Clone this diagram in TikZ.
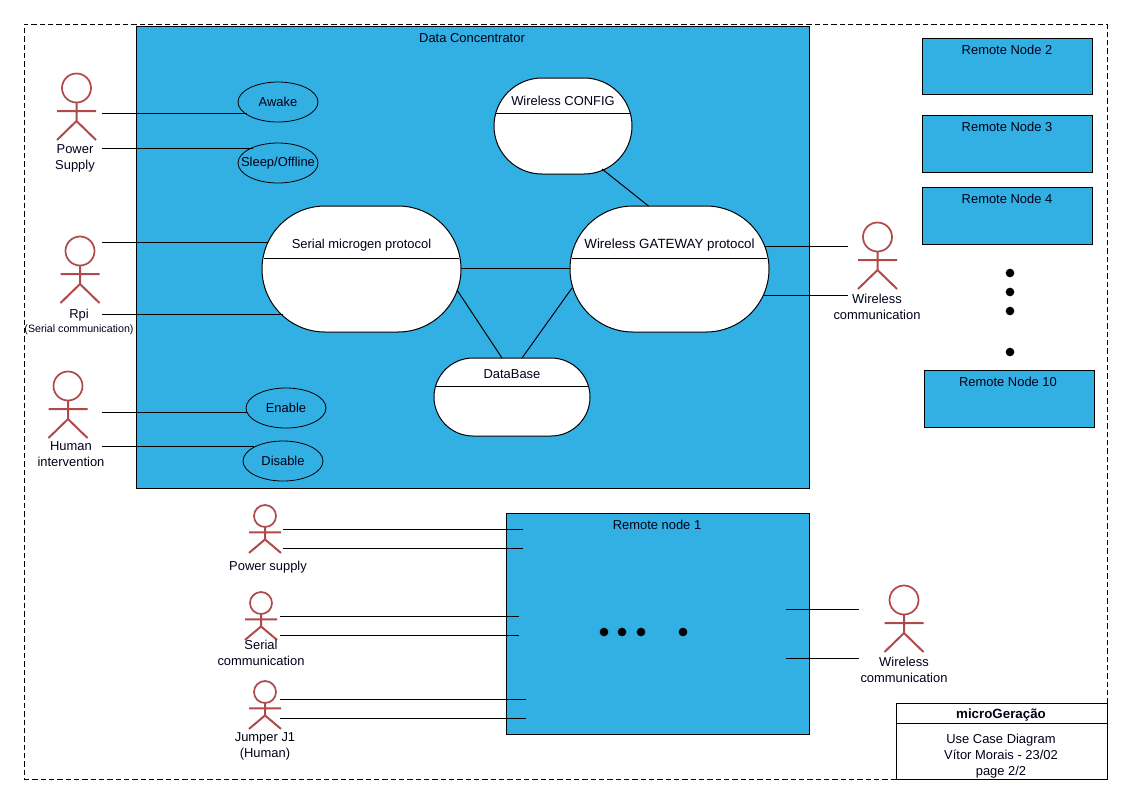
\documentclass[tikz,border=0pt]{standalone}
\usepackage{fontspec}
\setmainfont{Liberation Sans}
\usetikzlibrary{shapes.geometric,calc}
\definecolor{sysblue}{HTML}{33B0E3}
\definecolor{actorred}{HTML}{B04A4A}
\definecolor{textnavy}{HTML}{000018}
\tikzset{
  every node/.style={font=\fontsize{9.7}{12}\selectfont,text=textnavy,align=center,inner sep=0pt,outer sep=0pt},
  lbl/.style={yshift=-0.75pt},
  wire/.style={draw=black,line width=0.75pt},
  sysbox/.style={draw=black,fill=sysblue,line width=0.75pt,anchor=north west},
  usecase/.style={ellipse,draw=black,fill=sysblue,line width=0.6pt,minimum width=60pt,minimum height=30pt,inner xsep=-7pt},
  statebox/.style={draw=black,fill=white,line width=0.75pt},
  limb/.style={draw=actorred,line width=1.5pt},
  headc/.style={circle,draw=actorred,line width=1.3pt},
  dotn/.style={circle,fill=black,minimum size=6.5pt},
}
% name, x, head y, head radius (px), vertical scale, arm half width (px)
\newcommand{\actorfig}[6]{%
  \node[headc,minimum size=#4*1.5pt] (#1) at (#2,#3) {};
  \coordinate (#1-neck) at (#1.south);
  \coordinate (#1-hip) at (#2,#3+33*#5);
  \coordinate (#1-la) at (#2-#6,#3+23*#5);
  \coordinate (#1-ra) at (#2+#6,#3+23*#5);
  \coordinate (#1-lf) at (#2-#6,#3+52*#5);
  \coordinate (#1-rf) at (#2+#6,#3+52*#5);
  \draw[limb] (#1-neck) -- (#1-hip) (#1-la) -- (#1-ra) (#1-lf) -- (#1-hip) -- (#1-rf);
}
% name, x1, y1, x2, y2, radius(px), header y, title y, text
\newcommand{\statefig}[9]{%
  \node[statebox,rounded corners=#6*0.75pt,minimum width={(#4-#2)*0.75pt},minimum height={(#5-#3)*0.75pt}] (#1) at ({(#2+#4)/2},{(#3+#5)/2}) {};
  \draw[wire] ($(#1.west |- 0,#7)+(1.5pt,0)$) -- ($(#1.east |- 0,#7)+(-1.5pt,0)$);
  \node[lbl] (#1-title) at ({(#2+#4)/2},#8) {#9};
}
\begin{document}
\begin{tikzpicture}[x=0.75pt,y=-0.75pt]
\useasboundingbox (0,0) rectangle (1123,794);
\node[draw=black,dash pattern=on 4pt off 2.25pt,line width=0.75pt,anchor=north west,minimum width=812.25pt,minimum height=566.25pt] (frame) at (24,24) {};

% Data concentrator
\node[sysbox,minimum width=504.75pt,minimum height=346.5pt] (dc) at (136,26) {};
\node[lbl] (dclabel) at (472,37) {Data Concentrator};

% Remote nodes
\node[sysbox,minimum width=127.5pt,minimum height=42pt] (rn2) at (922,38) {};
\node[lbl] (rn2l) at (1007,49) {Remote Node 2};
\node[sysbox,minimum width=127.5pt,minimum height=42.75pt] (rn3) at (922,115) {};
\node[lbl] (rn3l) at (1007,126) {Remote Node 3};
\node[sysbox,minimum width=127.5pt,minimum height=42.75pt] (rn4) at (922,187) {};
\node[lbl] (rn4l) at (1007,198) {Remote Node 4};
\node[sysbox,minimum width=127.5pt,minimum height=42.75pt] (rn10) at (924,370) {};
\node[lbl] (rn10l) at (1008,381) {Remote Node 10};
\node[dotn] (d1) at (1010,273) {};
\node[dotn] (d2) at (1010,292) {};
\node[dotn] (d3) at (1010,311) {};
\node[dotn] (d4) at (1010,352) {};

% Remote node 1
\node[sysbox,minimum width=227.25pt,minimum height=165.75pt] (rn1) at (506,513) {};
\node[lbl] (rn1l) at (657,524) {Remote node 1};
\node[dotn] (e1) at (604,632) {};
\node[dotn] (e2) at (622,632) {};
\node[dotn] (e3) at (641,632) {};
\node[dotn] (e4) at (683,632) {};

% Use cases
\node[usecase] (awake) at (278,102) {\raisebox{-0.75pt}{Awake}};
\node[usecase] (sleep) at (278,163) {\raisebox{-0.75pt}{Sleep/Offline}};
\node[usecase] (enable) at (286,408) {\raisebox{-0.75pt}{Enable}};
\node[usecase] (disable) at (283,461) {\raisebox{-0.75pt}{Disable}};

% Actors
\actorfig{ps}{76.5}{88}{14.5}{1}{19.5}
\node[lbl] (psl) at (75,157) {Power\\Supply};
\actorfig{rpi}{80}{251}{14.5}{1}{19.5}
\node[lbl] (rpil) at (79,314) {Rpi};
\node[lbl,font=\fontsize{8}{10}\selectfont] (rpis) at (79,329) {(Serial communication)};
\actorfig{hum}{68}{386}{14.5}{1}{19.5}
\node[lbl] (huml) at (71,453) {Human\\intervention};
\actorfig{wc}{877.5}{237}{14.5}{1}{19.5}
\node[lbl] (wcl) at (877,306) {Wireless\\communication};
\actorfig{wc2}{904}{600}{14.5}{1}{19.5}
\node[lbl] (wc2l) at (904,669) {Wireless\\communication};
\actorfig{lps}{265}{516}{11}{0.71}{16}
\node[lbl] (lpsl) at (268,566) {Power supply};
\actorfig{lser}{261}{603}{11}{0.71}{16}
\node[lbl] (lserl) at (261,652) {Serial\\communication};
\actorfig{ljmp}{265}{692}{11}{0.71}{16}
\node[lbl] (ljmpl) at (265,745) {Jumper J1\\(Human)};

% Free wire ends
\coordinate (ps1) at (102,113);
\coordinate (ps2) at (102,148);
\coordinate (rpi1) at (102,242);
\coordinate (rpi2) at (102,314);
\coordinate (hum1) at (102,412);
\coordinate (hum2) at (102,446);
\coordinate (wc1) at (848,246);
\coordinate (wc2b) at (848,295);

\draw[wire] (ps1) -- ([xshift=-23.25pt]awake.center |- ps1);
\draw[wire] (ps2) -- ([xshift=-18.75pt]sleep.center |- ps2);
\draw[wire] (hum1) -- ([xshift=-29.25pt]enable.center |- hum1);
\draw[wire] (hum2) -- ([xshift=-21.75pt]disable.center |- hum2);

% State boxes
\statefig{config}{494}{78}{632}{174}{48}{113}{100}{Wireless CONFIG}
\statefig{serial}{262}{206}{461}{332}{63}{258}{244}{Serial microgen protocol}
\statefig{gateway}{570}{206}{769}{332}{63}{258}{244}{\fontsize{10}{12}\selectfont Wireless GATEWAY protocol}
\statefig{dbase}{434}{358}{590}{436}{39}{386}{373}{DataBase}

\draw[wire] (rpi1) -- ([xshift=4.5pt]serial.west |- rpi1);
\draw[wire] (rpi2) -- ([xshift=15.75pt]serial.west |- rpi2);
\coordinate (sgmid) at (461,268);
\draw[wire] (sgmid) -- (sgmid -| gateway.west);
\coordinate (cfgA) at (602,169);
\draw[wire] (cfgA) -- ([xshift=-15.75pt]gateway.north);
\draw[wire] ([xshift=-3pt,yshift=-15.75pt]serial.east) -- ([xshift=-7.5pt]dbase.north);
\draw[wire] ([xshift=1.5pt,yshift=-14.25pt]gateway.west) -- ([xshift=7.5pt]dbase.north);
\draw[wire] (wc1) -- ([xshift=-3pt]gateway.east |- wc1);
\draw[wire] (wc2b) -- ([xshift=-4.5pt]gateway.east |- wc2b);

% Remote node 1 wires
\coordinate (l1) at (283,529);
\coordinate (l2) at (283,548);
\coordinate (l3) at (280,616);
\coordinate (l4) at (280,635);
\coordinate (l5) at (280,699);
\coordinate (l6) at (280,718);
\coordinate (r1) at (859,609);
\coordinate (r2) at (859,658);
\draw[wire] (l1) -- ([xshift=12.75pt]rn1.west |- l1);
\draw[wire] (l2) -- ([xshift=12.75pt]rn1.west |- l2);
\draw[wire] (l3) -- ([xshift=9.75pt]rn1.west |- l3);
\draw[wire] (l4) -- ([xshift=9.75pt]rn1.west |- l4);
\draw[wire] (l5) -- ([xshift=15pt]rn1.west |- l5);
\draw[wire] (l6) -- ([xshift=15pt]rn1.west |- l6);
\draw[wire] (r1) -- ([xshift=-17.25pt]rn1.east |- r1);
\draw[wire] (r2) -- ([xshift=-17.25pt]rn1.east |- r2);

% Title block
\node[draw=black,fill=white,line width=0.75pt,anchor=north west,minimum width=158.25pt,minimum height=15pt] (tt) at (896,703) {};
\node[draw=black,fill=white,line width=0.75pt,anchor=north west,minimum width=158.25pt,minimum height=42pt] (tb) at (896,723) {};
\node[font=\fontsize{10}{12}\selectfont\bfseries] (ttl) at (1001,715) {microGeração};
\node (tbl) at (1001,756) {Use Case Diagram\\Vítor Morais - 23/02\\page 2/2};
\end{tikzpicture}
\end{document}
